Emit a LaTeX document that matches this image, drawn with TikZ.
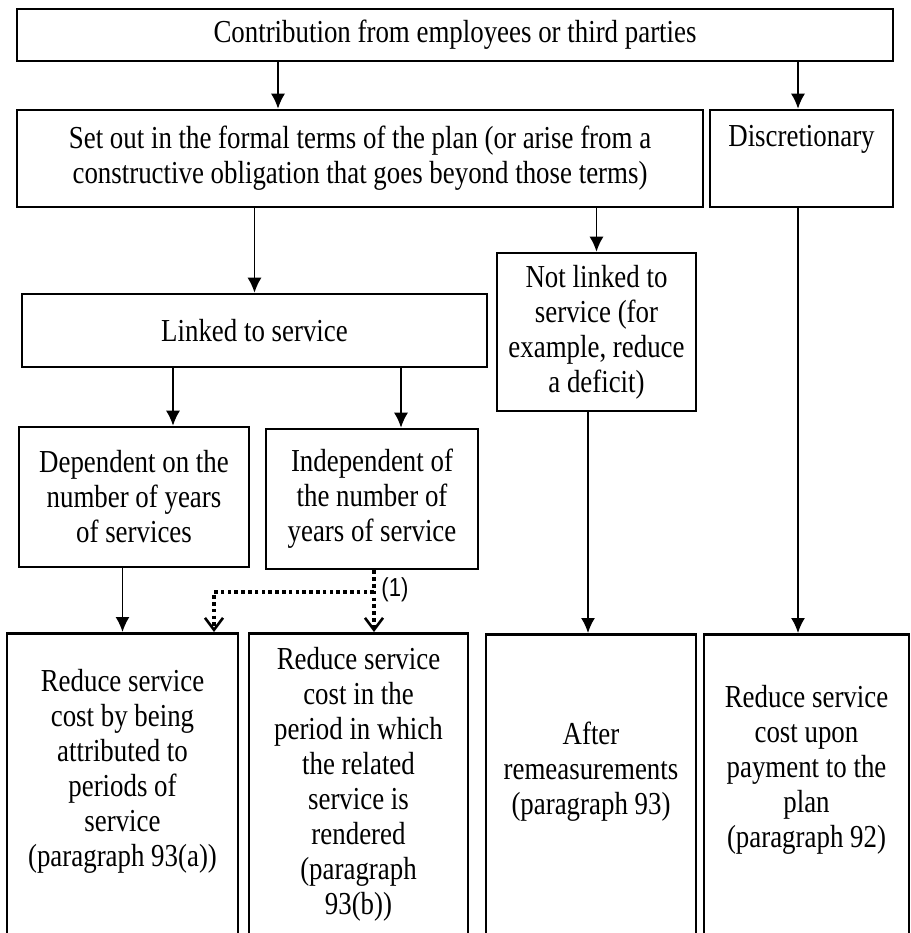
\documentclass[tikz,border=0pt]{standalone}
\usepackage{fontspec}
\setmainfont{Liberation Serif}[FakeStretch=0.84]
\newfontfamily\notefont{Liberation Sans}[FakeStretch=0.85]
\usetikzlibrary{arrows.meta}

\begin{document}
\begin{tikzpicture} [
        x = 0.5pt, y = -0.5pt,
        every node/.style = { inner sep = 0, align = center, font = \fontsize{16}{17.5}\selectfont },
        box/.style = { draw, line width = 1.3pt, rectangle },
        arr/.style = { line width = 0.8pt, -{Latex[length = 7.5pt, width = 7pt]} },
        dotarr/.style = { line width = 1.8pt, dash pattern = on 1.8pt off 1.6pt,
            -{Straight Barb[length = 6pt, width = 9pt, line width = 1.3pt]} }
        ]
        \useasboundingbox (0,0) rectangle (911,933);
        \clip (0,0) rectangle (911,933);

        \node [box, minimum width = 438pt, minimum height = 26pt] (contrib) at (455,35)
            {Contribution from employees or third parties};
        \node [box, minimum width = 343pt, minimum height = 48.5pt] (setout) at (360,158.5)
            {Set out in the formal terms of the plan (or arise from a\\constructive obligation that goes beyond those terms)};
        \node [box, minimum width = 91.5pt, minimum height = 48.5pt] (disc) at (801.5,158.5)
            {Discretionary\\\strut};
        \node [box, minimum width = 232.5pt, minimum height = 36.5pt] (linked) at (254.5,330.5)
            {Linked to service};
        \node [box, minimum width = 99.5pt, minimum height = 79pt] (notlinked) at (596.5,332)
            {Not linked to\\service (for\\example, reduce\\a deficit)};
        \node [box, minimum width = 115pt, minimum height = 70pt] (dep) at (134,497)
            {Dependent on the\\number of years\\of services};
        \node [box, minimum width = 106pt, minimum height = 70pt] (indep) at (372,499)
            {Independent of\\the number of\\years of service};

        \node [box, anchor = north, minimum width = 115.5pt, minimum height = 170pt] (r1) at (122.5,632) {};
        \node [box, anchor = north, minimum width = 109.5pt, minimum height = 170pt] (r2) at (358.5,632) {};
        \node [box, anchor = north, minimum width = 105pt, minimum height = 170pt] (r3) at (591,633) {};
        \node [box, anchor = north, minimum width = 102.5pt, minimum height = 170pt] (r4) at (806.5,633) {};

        \node (t1) at (122.5,771) {Reduce service\\cost by being\\attributed to\\periods of\\service\\(paragraph 93(a))};
        \node (t2) at (358.5,784) {Reduce service\\cost in the\\period in which\\the related\\service is\\rendered\\(paragraph\\93(b))};
        \node (t3) at (591,772) {After\\remeasurements\\(paragraph 93)};
        \node (t4) at (806.5,770) {Reduce service\\cost upon\\payment to the\\plan\\(paragraph 92)};

        \coordinate (xa) at (278,0);
        \coordinate (xb) at (173,0);
        \coordinate (xc) at (401,0);
        \coordinate (xd) at (588,0);
        \coordinate (xe) at (798,0);
        \coordinate (xf) at (374,0);
        \coordinate (xg) at (214,0);
        \coordinate (split) at (374,592);

        \draw [arr] (contrib.south -| xa) -- (setout.north -| xa);
        \draw [arr] (contrib.south -| xe) -- (disc.north -| xe);
        \draw [arr] (setout.south -| linked) -- (linked.north);
        \draw [arr] (setout.south -| notlinked) -- (notlinked.north);
        \draw [arr] (disc.south -| xe) -- (r4.north -| xe);
        \draw [arr] (linked.south -| xb) -- (dep.north -| xb);
        \draw [arr] (linked.south -| xc) -- (indep.north -| xc);
        \draw [arr] (notlinked.south -| xd) -- (r3.north -| xd);
        \draw [arr] (dep.south -| r1) -- (r1.north);

        \draw [dotarr] (indep.south -| xf) -- (r2.north -| xf);
        \draw [dotarr] (split) -| (r1.north -| xg);
        \node [font = \notefont\fontsize{13}{15}\selectfont, anchor = west] (note) at (381,590) {(1)};
    \end{tikzpicture}
\end{document}
